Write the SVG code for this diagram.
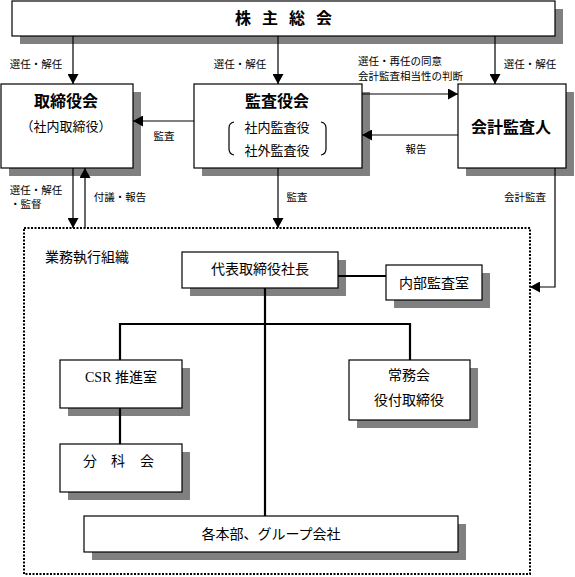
<svg xmlns="http://www.w3.org/2000/svg" width="575" height="577" viewBox="0 0 575 577">
<defs>
<style>
.box{fill:#fff;stroke:#000;stroke-width:1.2}
.sh{fill:#808080}
.ln{fill:none;stroke:#000;stroke-width:1.2}
.org{fill:none;stroke:#000;stroke-width:2.2}
.dot{fill:none;stroke:#000;stroke-width:2;stroke-dasharray:2 1.5}
text{font-family:"Noto Sans CJK JP","Noto Sans CJK SC",sans-serif;fill:#000;text-anchor:middle}
.sm{font-size:10.5px}
.ti{font-size:16px;font-weight:bold}
.md{font-size:13px}
.lo{font-family:"Liberation Serif","Noto Sans CJK JP",serif;font-size:14px}
</style>
<marker id="ah" markerUnits="userSpaceOnUse" markerWidth="11" markerHeight="11" refX="10" refY="5.5" orient="auto">
<path d="M0,0 L10,5.5 L0,11 z" fill="#000"/>
</marker>
</defs>
<rect width="575" height="577" fill="#fff"/>

<g id="org-frame">
<rect class="dot" x="24" y="228" width="506" height="346"/>
<text class="lo" x="45" y="262" style="text-anchor:start">業務執行組織</text>
</g>

<g id="shareholders">
<rect class="sh" x="20" y="9" width="543" height="35"/>
<rect class="box" x="12" y="1" width="543" height="35"/>
<text class="ti"><tspan x="243" y="24">株</tspan><tspan x="270" y="24">主</tspan><tspan x="297" y="24">総</tspan><tspan x="324" y="24">会</tspan></text>
</g>

<g id="board">
<rect class="sh" x="9" y="92" width="132" height="84"/>
<rect class="box" x="1" y="84" width="132" height="84"/>
<text class="ti" x="66" y="107">取締役会</text>
<text class="md" x="66" y="131">（社内取締役）</text>
</g>

<g id="auditors">
<rect class="sh" x="202" y="92" width="168" height="84"/>
<rect class="box" x="194" y="84" width="168" height="84"/>
<text class="ti" x="277" y="107">監査役会</text>
<text class="md" x="277" y="132">社内監査役</text>
<text class="md" x="277" y="155">社外監査役</text>
<path class="ln" d="M234,122 Q229,123 229,128 V149 Q229,154 234,155"/>
<path class="ln" d="M321,122 Q326,123 326,128 V149 Q326,154 321,155"/>
</g>

<g id="accounting-auditor">
<rect class="sh" x="466" y="92" width="108" height="84"/>
<rect class="box" x="458" y="84" width="108" height="84"/>
<text class="ti" x="511" y="133">会計監査人</text>
</g>

<g id="president">
<rect class="sh" x="190" y="260" width="156" height="36"/>
<rect class="box" x="182" y="252" width="156" height="36"/>
<text class="lo" x="260" y="274">代表取締役社長</text>
</g>

<g id="internal-audit">
<rect class="sh" x="394" y="273" width="96" height="35"/>
<rect class="box" x="386" y="265" width="96" height="35"/>
<text class="lo" x="434" y="288">内部監査室</text>
</g>

<g id="csr">
<rect class="sh" x="68" y="368" width="122" height="48"/>
<rect class="box" x="60" y="360" width="122" height="48"/>
<text class="lo" x="121" y="382">CSR 推進室</text>
</g>

<g id="subcommittee">
<rect class="sh" x="68" y="452" width="122" height="48"/>
<rect class="box" x="60" y="444" width="122" height="48"/>
<text class="lo"><tspan x="90" y="466">分</tspan><tspan x="118" y="466">科</tspan><tspan x="147" y="466">会</tspan></text>
</g>

<g id="executive">
<rect class="sh" x="357" y="368" width="121" height="60"/>
<rect class="box" x="349" y="360" width="121" height="60"/>
<text class="lo" x="409" y="380">常務会</text>
<text class="lo" x="409" y="405">役付取締役</text>
</g>

<g id="divisions">
<rect class="sh" x="92" y="524" width="374" height="36"/>
<rect class="box" x="84" y="516" width="374" height="36"/>
<text class="lo" x="271" y="539">各本部、グループ会社</text>
</g>

<g id="connectors">
<line class="ln" x1="73" y1="36" x2="73" y2="84" marker-end="url(#ah)"/>
<line class="ln" x1="278" y1="36" x2="278" y2="84" marker-end="url(#ah)"/>
<line class="ln" x1="495" y1="36" x2="495" y2="84" marker-end="url(#ah)"/>
<line class="ln" x1="194" y1="121" x2="133" y2="121" marker-end="url(#ah)"/>
<line class="ln" x1="362" y1="94" x2="458" y2="94" marker-end="url(#ah)"/>
<line class="ln" x1="458" y1="135" x2="362" y2="135" marker-end="url(#ah)"/>
<line class="ln" x1="73" y1="168" x2="73" y2="228" marker-end="url(#ah)"/>
<line class="ln" x1="85" y1="228" x2="85" y2="168" marker-end="url(#ah)"/>
<line class="ln" x1="278" y1="168" x2="278" y2="228" marker-end="url(#ah)"/>
<path class="ln" d="M555,168 V287 H530" marker-end="url(#ah)"/>
<line class="org" x1="338" y1="276" x2="386" y2="276"/>
<line class="org" x1="265" y1="288" x2="265" y2="516"/>
<line class="org" x1="120" y1="324" x2="410" y2="324"/>
<line class="org" x1="120" y1="323" x2="120" y2="360"/>
<line class="org" x1="410" y1="323" x2="410" y2="360"/>
<line class="org" x1="120" y1="408" x2="120" y2="444"/>
<text class="sm" x="36" y="68">選任・解任</text>
<text class="sm" x="240" y="68">選任・解任</text>
<text class="sm" x="530" y="68">選任・解任</text>
<text class="sm" x="358" y="65" style="text-anchor:start">選任・再任の同意</text>
<text class="sm" x="358" y="80" style="text-anchor:start">会計監査相当性の判断</text>
<text class="sm" x="164" y="140">監査</text>
<text class="sm" x="416" y="153">報告</text>
<text class="sm" x="36" y="194">選任・解任</text>
<text class="sm" x="10" y="208" style="text-anchor:start">・監督</text>
<text class="sm" x="120" y="201">付議・報告</text>
<text class="sm" x="297" y="201">監査</text>
<text class="sm" x="525" y="201">会計監査</text>
</g>
</svg>
